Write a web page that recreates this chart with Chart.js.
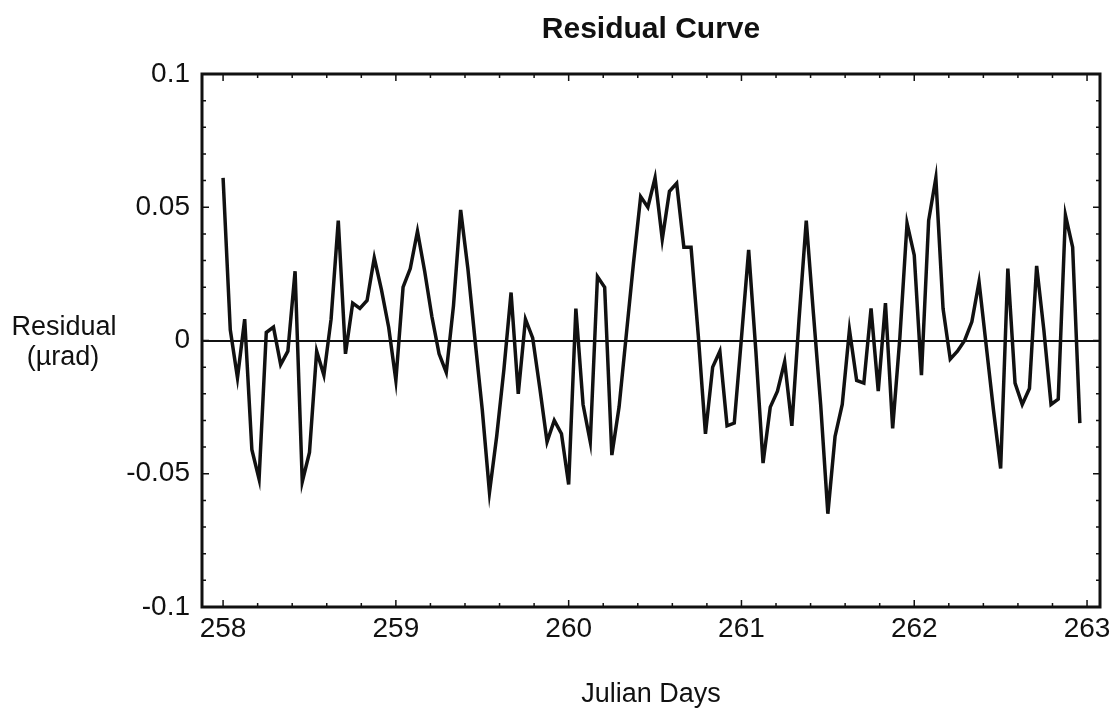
<!DOCTYPE html>
<html>
<head>
<meta charset="utf-8">
<title>Residual Curve</title>
<script src="https://cdn.jsdelivr.net/npm/chart.js@4.4.1/dist/chart.umd.min.js"></script>
<style>
  body { margin: 0; background: #fff; }
  canvas { display: block; }
</style>
</head>
<body>
<canvas id="residual" width="1120" height="714"></canvas>
<script>
// hourly residual samples, first one at day 258.0
const startDay = 258;
const samplesPerDay = 24;
const residuals = [
  0.061, 0.004, -0.014, 0.008, -0.041, -0.052, 0.003, 0.005, -0.009, -0.004,
  0.026, -0.053, -0.042, -0.004, -0.013, 0.008, 0.045, -0.005, 0.014, 0.012,
  0.015, 0.031, 0.019, 0.005, -0.015, 0.020, 0.027, 0.041, 0.026, 0.009,
  -0.005, -0.012, 0.013, 0.049, 0.027, 0.000, -0.026, -0.057, -0.036, -0.011,
  0.018, -0.020, 0.008, 0.001, -0.018, -0.038, -0.030, -0.035, -0.054, 0.012,
  -0.024, -0.038, 0.024, 0.020, -0.043, -0.025, 0.002, 0.029, 0.054, 0.050,
  0.061, 0.038, 0.056, 0.059, 0.035, 0.035, 0.002, -0.035, -0.010, -0.004,
  -0.032, -0.031, 0.001, 0.034, -0.004, -0.046, -0.025, -0.019, -0.008, -0.032,
  0.008, 0.045, 0.010, -0.024, -0.065, -0.036, -0.024, 0.004, -0.015, -0.016,
  0.012, -0.019, 0.014, -0.033, 0.001, 0.044, 0.032, -0.013, 0.045, 0.061,
  0.012, -0.007, -0.004, 0.000, 0.007, 0.022, -0.002, -0.026, -0.048, 0.027,
  -0.016, -0.024, -0.018, 0.028, 0.004, -0.024, -0.022, 0.047, 0.035, -0.031
];

const xTicks = [258, 259, 260, 261, 262, 263];
const yTicks = [-0.1, -0.05, 0, 0.05, 0.1];
const yTickLabels = ["-0.1", "-0.05", "0", "0.05", "0.1"];
const chartTitle = "Residual Curve";
const yTitle = ["Residual", "(µrad)"];
const xTitle = "Julian Days";

const ink = "#111";
const family = "'Liberation Sans', Arial, Helvetica, sans-serif";
Chart.defaults.font.family = family;
Chart.defaults.color = ink;

const points = residuals.map((v, i) => ({ x: startDay + i / samplesPerDay, y: v }));

// frame box, inward ticks on all four sides, title and horizontal y label
const frame = {
  id: "frame",
  afterDraw(chart) {
    const { ctx, chartArea: a } = chart;
    const x = chart.scales.x;
    const y = chart.scales.y;
    ctx.save();
    ctx.strokeStyle = ink;

    // minor ticks every 0.2 day, major every day
    ctx.lineWidth = 1.5;
    for (let k = 0; k <= 25; k++) {
      const px = x.getPixelForValue(258 + k * 0.2);
      const len = k % 5 === 0 ? 7 : 4;
      ctx.beginPath();
      ctx.moveTo(px, a.bottom);
      ctx.lineTo(px, a.bottom - len);
      ctx.moveTo(px, a.top);
      ctx.lineTo(px, a.top + len);
      ctx.stroke();
    }
    // minor ticks every 0.01, major every 0.05
    for (let k = 0; k <= 20; k++) {
      const py = y.getPixelForValue(-0.1 + k * 0.01);
      const len = k % 5 === 0 ? 7 : 4;
      ctx.beginPath();
      ctx.moveTo(a.left, py);
      ctx.lineTo(a.left + len, py);
      ctx.moveTo(a.right, py);
      ctx.lineTo(a.right - len, py);
      ctx.stroke();
    }

    ctx.lineWidth = 3;
    ctx.strokeRect(a.left, a.top, a.right - a.left, a.bottom - a.top);

    ctx.fillStyle = ink;
    ctx.textAlign = "center";
    ctx.textBaseline = "middle";
    ctx.font = "bold 30px " + family;
    ctx.fillText(chartTitle, (a.left + a.right) / 2, 30);

    ctx.font = "27px " + family;
    ctx.fillText(yTitle[0], 64, 328);
    ctx.fillText(yTitle[1], 63, 358);
    ctx.restore();
  },
};

new Chart(document.getElementById("residual"), {
  type: "line",
  data: {
    datasets: [
      {
        label: "residual",
        data: points,
        borderColor: ink,
        borderWidth: 3.5,
        pointRadius: 0,
        tension: 0,
        fill: false,
      },
    ],
  },
  options: {
    responsive: false,
    animation: false,
    devicePixelRatio: 1,
    layout: { padding: { top: 74, right: 20, bottom: 0, left: 0 } },
    plugins: {
      legend: { display: false },
      tooltip: { enabled: false },
    },
    scales: {
      x: {
        type: "linear",
        min: 257.878,
        max: 263.075,
        afterBuildTicks: (scale) => {
          scale.ticks = xTicks.map((v) => ({ value: v }));
        },
        afterFit: (scale) => {
          scale.height = 107;
        },
        grid: { display: false },
        border: { display: false },
        ticks: {
          font: { size: 28 },
          padding: -3,
          maxRotation: 0,
          autoSkip: false,
          callback: (value) => String(value),
        },
        title: {
          display: true,
          text: xTitle,
          font: { size: 27 },
          padding: { top: 0, bottom: 3 },
        },
      },
      y: {
        min: -0.1,
        max: 0.1,
        afterBuildTicks: (scale) => {
          scale.ticks = yTicks.map((v) => ({ value: v }));
        },
        afterFit: (scale) => {
          scale.width = 202;
        },
        grid: {
          drawTicks: false,
          lineWidth: 2,
          color: (c) => (c.tick && c.tick.value === 0 ? ink : "rgba(0,0,0,0)"),
        },
        border: { display: false },
        ticks: {
          font: { size: 28 },
          padding: 12,
          callback: (value, index) => yTickLabels[index],
        },
      },
    },
  },
  plugins: [frame],
});
</script>
</body>
</html>
